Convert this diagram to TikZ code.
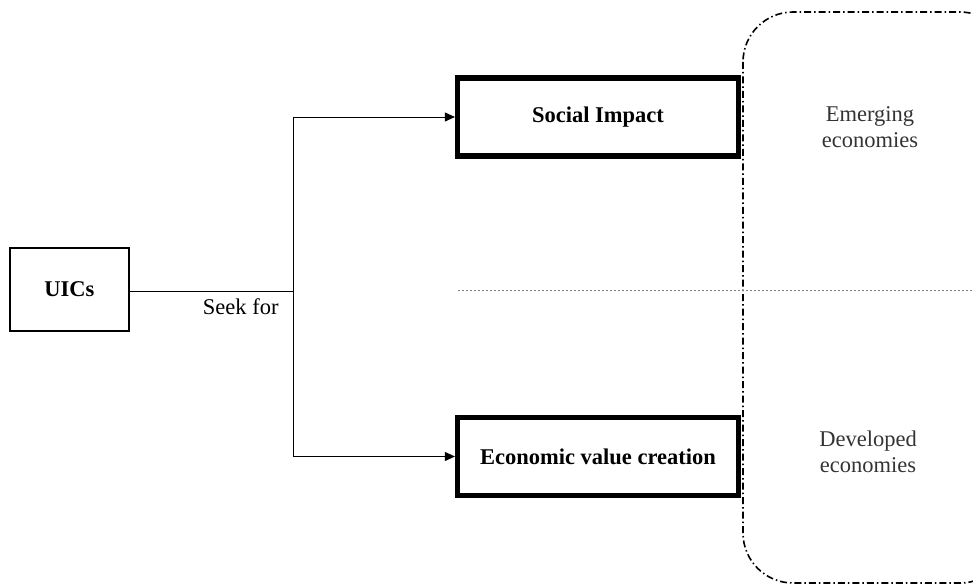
\documentclass[tikz,border=0pt]{standalone}
\usepackage{fontspec}
\setmainfont{Liberation Serif}
\usetikzlibrary{arrows.meta}

\tikzset{
  srcbox/.style={draw, line width=1.5pt, minimum width=119pt, minimum height=83pt,
    font=\fontsize{22.5}{26}\selectfont\bfseries},
  aimbox/.style={draw, line width=5.2pt, minimum width=281pt, minimum height=78pt,
    font=\fontsize{22.5}{26}\selectfont\bfseries},
  link/.style={line width=0.9pt},
  region/.style={line width=1.6pt, rounded corners=50pt,
    dash pattern=on 7pt off 3pt on 1.5pt off 3pt},
  note/.style={align=center, font=\fontsize{22.5}{26}\selectfont, text=black!80}
}

\begin{document}
\begin{tikzpicture}[x=1pt, y=-1pt]
    \useasboundingbox (0,0) rectangle (973,585);
    \clip (0,0) rectangle (973,585);

    % context box on the right
    \draw[region] (743,12) rectangle (1010,583);
    \draw[gray, line width=1pt, dash pattern=on 2pt off 2pt] (458,290) -- (973,290);
    \node[note] (emerging) at (870,127) {Emerging\\economies};
    \node[note] (developed) at (868,452) {Developed\\economies};

    \node[srcbox] (uics) at (69.5,289.5) {UICs};
    \node[aimbox] (social) at (598,117) {Social Impact};
    \node[aimbox] (econ) at (598,456.5) {Economic value creation};

    \coordinate (fork) at (293,291);
    \draw[link] (uics.east |- fork) -- (fork)
      node [pos=0.68, below=4pt, font=\fontsize{22.5}{26}\selectfont] {Seek for};
    \draw[link, -{Triangle[length=10pt, width=9pt]}] (fork) |- (social.west);
    \draw[link, -{Triangle[length=10pt, width=9pt]}] (fork) |- (econ.west);
  \end{tikzpicture}
\end{document}
